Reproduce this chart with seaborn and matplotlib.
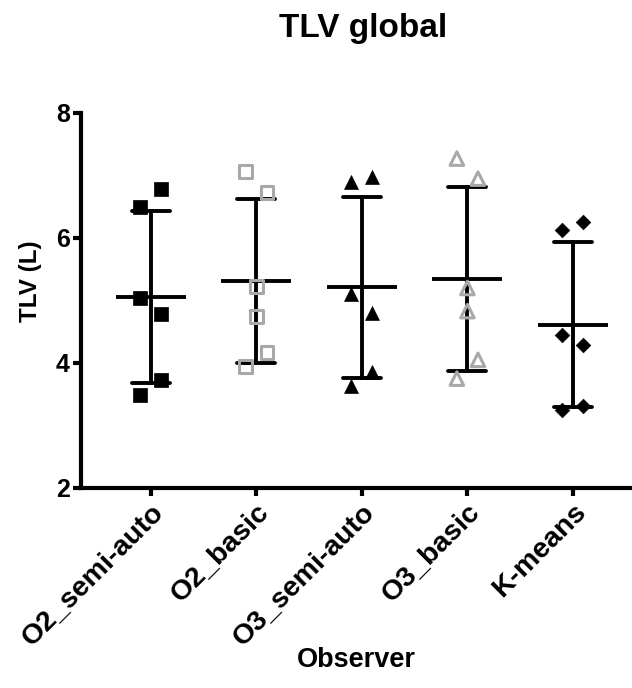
import matplotlib
matplotlib.use('Agg')
import matplotlib.pyplot as plt
import seaborn as sns
import pandas as pd

# TLV values (L) per observer
observers = ['O2_semi-auto', 'O2_basic', 'O3_semi-auto', 'O3_basic', 'K-means']
o2_semi_auto = [6.79, 6.50, 5.04, 4.79, 3.73, 3.48]
o2_basic = [7.06, 6.73, 5.22, 4.74, 4.17, 3.94]
o3_semi_auto = [6.97, 6.90, 5.11, 4.80, 3.86, 3.63]
o3_basic = [7.27, 6.95, 5.20, 4.83, 4.05, 3.75]
k_means = [6.26, 6.13, 4.45, 4.29, 3.31, 3.24]
y_ticks = [2, 4, 6, 8]

# left/right scatter side of each point (GraphPad style spreading)
sides = [[1, -1, -1, 1, 1, -1],
         [-1, 1, 0, 0, 1, -1],
         [1, -1, -1, 1, 1, -1],
         [-1, 1, 0, 0, 1, -1],
         [1, -1, -1, 1, 1, -1]]
spread = 0.1

markers = ['s', 's', '^', '^', 'D']
sizes = [95, 85, 100, 95, 55]
filled = [True, False, True, False, True]
grey = '#a8a8a8'

values = [o2_semi_auto, o2_basic, o3_semi_auto, o3_basic, k_means]
rows = []
for i, (name, vals) in enumerate(zip(observers, values)):
    for v, s in zip(vals, sides[i]):
        rows.append({'Observer': name, 'code': i, 'xpos': i + s * spread, 'TLV': v})
df = pd.DataFrame(rows)

sns.set_style('ticks')
plt.rcParams['font.family'] = ['Liberation Sans', 'DejaVu Sans']
plt.rcParams['font.weight'] = 'bold'
plt.rcParams.update({'text.color': 'black', 'axes.labelcolor': 'black',
                     'xtick.color': 'black', 'ytick.color': 'black',
                     'axes.edgecolor': 'black'})

fig = plt.figure(figsize=(6.32, 6.88), dpi=100)
ax = fig.add_axes([0.128, 0.2907, 0.872, 0.5451])

# mean +/- SD
sns.pointplot(data=df, x='Observer', y='TLV', order=observers, errorbar='sd',
              capsize=0.36, linestyle='none', marker='_', markersize=50,
              markeredgewidth=2.8, color='black', err_kws={'linewidth': 2.8},
              ax=ax, zorder=2)

for i, name in enumerate(observers):
    sub = df[df['Observer'] == name]
    if filled[i]:
        sns.scatterplot(x=sub['xpos'], y=sub['TLV'], marker=markers[i], s=sizes[i],
                        color='black', edgecolor='black', linewidth=0.5, ax=ax, zorder=3)
    else:
        sns.scatterplot(x=sub['xpos'], y=sub['TLV'], marker=markers[i], s=sizes[i],
                        facecolor='none', edgecolor=grey, linewidth=2.2, ax=ax, zorder=3)

ax.set_xlim(-0.664, 4.56)
ax.set_ylim(2, 8)
ax.set_yticks(y_ticks)
ax.set_yticklabels([str(t) for t in y_ticks], fontsize=18, fontweight='bold')
ax.set_xticks(range(len(observers)))
ax.set_xticklabels(observers, rotation=45, ha='right', rotation_mode='anchor',
                   fontsize=20.5, fontweight='bold')
ax.tick_params(axis='both', width=3, length=6, pad=2)
for sp in ['top', 'right']:
    ax.spines[sp].set_visible(False)
for sp in ['left', 'bottom']:
    ax.spines[sp].set_linewidth(3)

ax.set_ylabel('TLV (L)', fontsize=17.5, fontweight='bold')
ax.yaxis.set_label_coords(-0.071, 0.552)
ax.set_xlabel('Observer', fontsize=19.5, fontweight='bold')
ax.xaxis.set_label_coords(0.499, -0.425)

fig.text(0.574, 0.958, 'TLV global', ha='center', va='center', fontsize=24, fontweight='bold')

fig.savefig('out.png', dpi=100)
